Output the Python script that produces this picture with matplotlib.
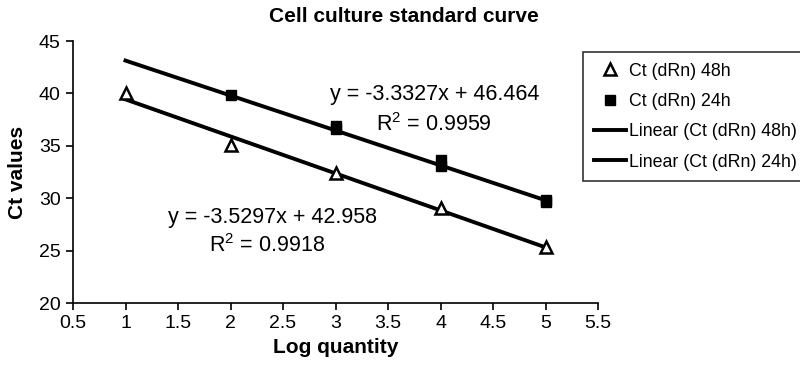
import numpy as np
import matplotlib
matplotlib.use('Agg')
import matplotlib.pyplot as plt

plt.rcParams['font.family'] = ['Liberation Sans', 'DejaVu Sans']

# Ct values, 48h (one well per dilution)
log_qty_48 = [1, 2, 3, 4, 5]
ct_48 = [40.0, 35.1, 32.4, 29.1, 25.3]

# Ct values, 24h (duplicates at 3, 4 and 5)
log_qty_24 = [2, 3, 3, 4, 4, 5, 5]
ct_24 = [39.8, 36.9, 36.6, 33.6, 33.1, 29.8, 29.6]

# trendline coefficients as printed on the chart
fit_48 = (-3.5297, 42.958, 0.9918)
fit_24 = (-3.3327, 46.464, 0.9959)

x_ticks = [0.5, 1, 1.5, 2, 2.5, 3, 3.5, 4, 4.5, 5, 5.5]
y_ticks = [20, 25, 30, 35, 40, 45]

fig = plt.figure(figsize=(8, 3.68), dpi=100)
ax = fig.add_axes([73 / 800, 1 - 303 / 368, 525 / 800, 262 / 368])

x_fit = np.array([1, 5])
ax.plot(log_qty_48, ct_48, '^', ms=9, mfc='white', mec='black', mew=1.8,
        label='Ct (dRn) 48h', zorder=4)
ax.plot(log_qty_24, ct_24, 's', ms=7, mfc='black', mec='black',
        label='Ct (dRn) 24h', zorder=4)
ax.plot(x_fit, fit_48[0] * x_fit + fit_48[1], '-', color='black', lw=2.8,
        label='Linear (Ct (dRn) 48h)', zorder=3)
ax.plot(x_fit, fit_24[0] * x_fit + fit_24[1], '-', color='black', lw=2.8,
        label='Linear (Ct (dRn) 24h)', zorder=3)

ax.text(3.94, 39.85, 'y = %.4fx + %.3f' % (fit_24[0], fit_24[1]),
        ha='center', va='center', fontsize=15.5)
ax.text(3.94, 37.0, '$\\mathregular{R^2}$ = %.4f' % fit_24[2],
        ha='center', va='center', fontsize=15.5)
ax.text(2.40, 28.2, 'y = %.4fx + %.3f' % (fit_48[0], fit_48[1]),
        ha='center', va='center', fontsize=15.5)
ax.text(2.35, 25.5, '$\\mathregular{R^2}$ = %.4f' % fit_48[2],
        ha='center', va='center', fontsize=15.5)

ax.set_xlim(0.5, 5.5)
ax.set_ylim(20, 45)
ax.set_xticks(x_ticks)
ax.set_xticklabels(['%g' % t for t in x_ticks])
ax.set_yticks(y_ticks)
ax.tick_params(direction='out', length=5, width=1.2, labelsize=14, pad=4)
for side in ['top', 'right']:
    ax.spines[side].set_visible(False)
for side in ['left', 'bottom']:
    ax.spines[side].set_linewidth(1.2)

ax.set_xlabel('Log quantity', fontsize=15, fontweight='bold', labelpad=4)
fig.text(18 / 800, 1 - 172 / 368, 'Ct values', rotation=90, ha='center',
         va='center', fontsize=15, fontweight='bold')
fig.text(404 / 800, 1 - 17 / 368, 'Cell culture standard curve', ha='center',
         va='center', fontsize=15, fontweight='bold')

leg = fig.legend(loc='upper left', bbox_to_anchor=(583 / 800, 1 - 52 / 368),
                 frameon=True, fancybox=False, fontsize=12.8, borderpad=0.6,
                 labelspacing=0.75, handlelength=1.8, handletextpad=0.2,
                 borderaxespad=0, markerscale=1.0)
leg.get_frame().set_edgecolor('black')
leg.get_frame().set_linewidth(1.2)

fig.savefig('out.png', dpi=100)
